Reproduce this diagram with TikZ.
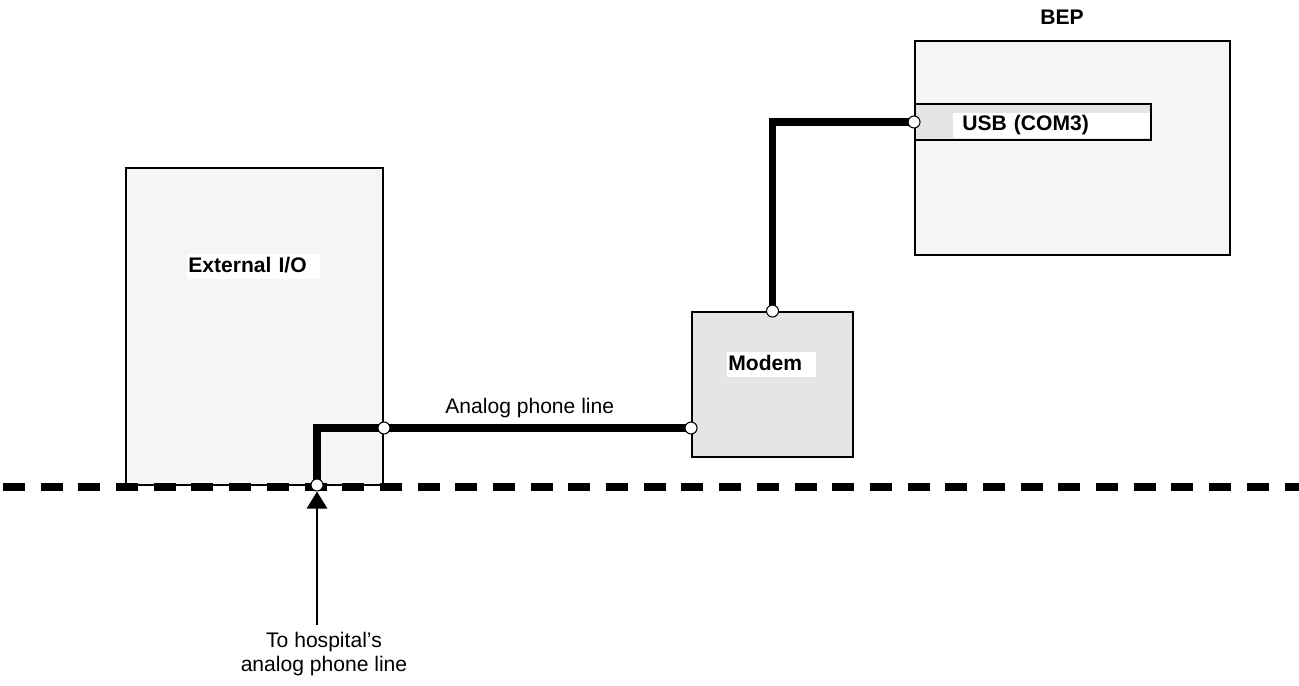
\documentclass[tikz,border=0pt,12pt]{standalone}
\usepackage{fontspec}
\setmainfont{Liberation Sans}
\usetikzlibrary{arrows.meta,positioning}

\begin{document}
\begin{tikzpicture}[
  x=0.02cm, y=-0.02cm,
  box/.style={draw,line width=1.1pt,fill=black!4,inner sep=0pt},
  unit/.style={box,fill=black!10},
  lbl/.style={fill=white,font=\bfseries,anchor=base west,align=left,inner xsep=0.02cm,inner ysep=1pt,text height=9pt,text depth=3pt},
  port/.style={circle,draw,fill=white,line width=0.6pt,inner sep=0pt,minimum size=0.24cm},
  wire/.style={line width=4.3pt},
  ground/.style={line width=4.5pt,dash pattern=on 0.44cm off 0.314cm},
  arr/.style={-{Triangle[width=0.4cm,length=0.34cm]},line width=1.6pt}
]
  \useasboundingbox (0,0) rectangle (1299,686);

  \node[box, minimum width=5.14cm, minimum height=6.34cm] (io) at (254.5,326.5) {};
  \node[unit, minimum width=3.22cm, minimum height=2.9cm] (modem) at (772.5,384.5) {};
  \node[box, minimum width=6.3cm, minimum height=4.28cm] (bep) at (1072.5,148) {};
  \node[unit, minimum width=4.72cm, minimum height=0.72cm] (usb) at (1033,122) {};

  \node[lbl, text width=2.62cm] (iolbl) at (187,272) {External I/O};
  \node[lbl, text width=1.74cm] (modemlbl) at (727,370) {Modem};
  \node[lbl, text width=3.58cm, inner xsep=0.18cm] (usblbl) at (953,131) {USB (COM3)};
  \node[font=\bfseries] (beplbl) at (1062,17) {BEP};
  \node[anchor=base west, inner sep=0pt] (linelbl) at (445,413) {Analog phone line};
  \node[align=center, anchor=north, font=\fontsize{12}{13.6}\selectfont] (hosp) at (324,625) {To hospital’s\\analog phone line};

  \draw[ground] (3,487) -- (1299,487);

  \coordinate (jack) at (317,485);
  \coordinate (ioport) at (io.east |- 0,428);
  \coordinate (modemin) at (modem.west |- 0,428);
  \draw[wire] (jack) |- (ioport) -- (modemin);
  \draw[wire] (modem.north) |- (usb.west);

  \node[port] (jp) at (jack) {};
  \node[port] (iop) at (ioport) {};
  \node[port] (mip) at (modemin) {};
  \node[port] (mop) at (modem.north) {};
  \node[port] (usbp) at (usb.west) {};

  \draw[arr] (hosp.north -| jp) -- (jp);
\end{tikzpicture}
\end{document}
